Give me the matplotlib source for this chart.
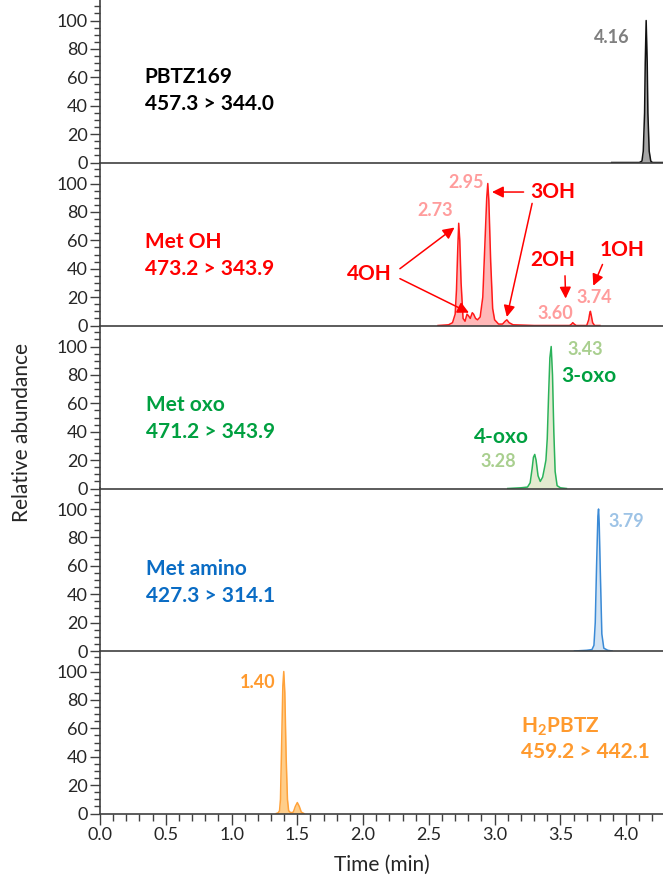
import matplotlib
matplotlib.use('Agg')
import matplotlib.pyplot as plt
from matplotlib.ticker import MultipleLocator, FormatStrFormatter

plt.rcParams['font.family'] = ['Lato', 'DejaVu Sans']
plt.rcParams['mathtext.fontset'] = 'custom'
plt.rcParams['mathtext.rm'] = 'Lato'
plt.rcParams['mathtext.bf'] = 'Lato:bold'

# --- traces (time in min, relative abundance %) ---
pbtz_t = [3.89, 4.10, 4.12, 4.13, 4.14, 4.145, 4.152, 4.16, 4.165, 4.175, 4.187, 4.20, 4.30]
pbtz_y = [0, 0, 1, 8, 35, 70, 100, 70, 35, 8, 1, 0, 0]

met_oh_t = [2.57, 2.65, 2.68, 2.70, 2.71, 2.72, 2.727, 2.735, 2.745, 2.76, 2.775, 2.79,
            2.80, 2.815, 2.83, 2.84, 2.855, 2.87, 2.89, 2.91, 2.925, 2.94, 2.948, 2.956,
            2.97, 2.985, 3.00, 3.03, 3.06, 3.08, 3.093, 3.11, 3.14, 3.30, 3.57, 3.585,
            3.594, 3.605, 3.62, 3.70, 3.715, 3.722, 3.728, 3.735, 3.745, 3.76, 3.80]
met_oh_y = [0, 0.5, 2, 8, 25, 55, 72, 60, 30, 5, 3, 8,
            7, 5, 9, 8, 5, 4, 6, 20, 55, 90, 100, 88,
            45, 12, 4, 1, 1, 3, 4, 2, 0.5, 0, 0, 1,
            2, 1, 0, 0, 4, 8, 10, 7, 2, 0, 0]

met_oxo_t = [3.10, 3.20, 3.25, 3.27, 3.285, 3.295, 3.305, 3.315, 3.33, 3.347, 3.365, 3.38,
             3.39, 3.40, 3.41, 3.42, 3.43, 3.44, 3.45, 3.46, 3.475, 3.50, 3.546]
met_oxo_y = [0, 0.5, 1, 4, 14, 22, 24, 20, 9, 5, 8, 15,
             20, 35, 65, 92, 100, 80, 40, 12, 2, 0.5, 0]

met_amino_t = [3.607, 3.70, 3.74, 3.755, 3.765, 3.775, 3.785, 3.79, 3.795, 3.805, 3.815, 3.83, 3.86, 3.893]
met_amino_y = [0, 0.5, 1, 4, 20, 60, 95, 100, 90, 50, 12, 2, 0.5, 0]

h2pbtz_t = [1.34, 1.355, 1.365, 1.372, 1.38, 1.39, 1.397, 1.405, 1.415, 1.425, 1.434,
            1.45, 1.47, 1.485, 1.50, 1.515, 1.53, 1.55]
h2pbtz_y = [0, 0.5, 2, 10, 45, 90, 100, 85, 40, 10, 2, 0.5, 1, 5, 7.7, 5, 1, 0]

compounds = ['PBTZ169', 'Met OH', 'Met oxo', 'Met amino', r'H$_\mathbf{2}$PBTZ']
transitions = ['457.3 > 344.0', '473.2 > 343.9', '471.2 > 343.9', '427.3 > 314.1', '459.2 > 442.1']
x_ticks = [0.0, 0.5, 1.0, 1.5, 2.0, 2.5, 3.0, 3.5, 4.0]
y_ticks = [0, 20, 40, 60, 80, 100]

traces = [(pbtz_t, pbtz_y), (met_oh_t, met_oh_y), (met_oxo_t, met_oxo_y),
          (met_amino_t, met_amino_y), (h2pbtz_t, h2pbtz_y)]

line_colors = ['#111111', '#ff1a1a', '#2bb25a', '#3a8ad6', '#ffa23a']
fill_colors = ['#a6a6a6', '#ffb8b8', '#e3ebd0', '#d3e4f4', '#ffce8a']
label_colors = ['#000000', '#ff0000', '#00a040', '#0a6cc4', '#ff9a2e']
rt_colors = ['#7f7f7f', '#ff9c9c', '#a9cf8f', '#9dc3e6', '#ff9a2e']

fig = plt.figure(figsize=(6.63, 8.75), dpi=100)

W, H = 663, 875
ax_left = 100 / W
ax_w = 1 - ax_left
panel_h = 163 / H
zero_px = [162.5, 325.5, 488.5, 651, 813.5]
ymax = 114.8

axes = []
for i in range(5):
    bottom = 1 - zero_px[i] / H
    ax = fig.add_axes([ax_left, bottom, ax_w, panel_h])
    ax.patch.set_alpha(0)
    t, y = traces[i]
    ax.fill_between(t, y, 0, color=fill_colors[i], lw=0, zorder=1)
    ax.plot(t, y, color=line_colors[i], lw=1.1, zorder=2)
    ax.set_xlim(0, 4.28)
    ax.set_ylim(0, ymax)
    for s in ['top', 'right']:
        ax.spines[s].set_visible(False)
    for s in ['left', 'bottom']:
        ax.spines[s].set_color('#404040')
        ax.spines[s].set_linewidth(1.2)
    ax.set_yticks(y_ticks)
    ax.yaxis.set_minor_locator(MultipleLocator(5))
    ax.tick_params(axis='y', which='major', length=7, width=1, color='#404040',
                   labelsize=13, labelcolor='#262626', pad=2)
    ax.tick_params(axis='y', which='minor', length=4, width=1, color='#404040')
    if i < 4:
        ax.set_xticks([])
        ax.tick_params(axis='x', which='both', bottom=False, labelbottom=False)
    else:
        ax.set_xticks(x_ticks)
        ax.xaxis.set_major_formatter(FormatStrFormatter('%.1f'))
        ax.xaxis.set_minor_locator(MultipleLocator(0.1))
        ax.tick_params(axis='x', which='major', length=8, width=1, color='#404040',
                       labelsize=13, labelcolor='#262626', pad=2)
        ax.tick_params(axis='x', which='minor', length=5, width=1, color='#404040')
        ax.set_xlabel('Time (min)', fontsize=15, color='#262626', labelpad=8)
    axes.append(ax)

# compound names and transitions
name_pos = [(0.34, 60, 41), (0.34, 59, 40), (0.35, 59, 40), (0.35, 58, 39), (3.20, 61, 43)]
for i, ax in enumerate(axes):
    x0, y_name, y_tr = name_pos[i]
    ax.text(x0, y_name, compounds[i], color=label_colors[i], fontsize=15,
            fontweight='bold', va='center', ha='left')
    ax.text(x0, y_tr, transitions[i], color=label_colors[i], fontsize=15,
            fontweight='bold', va='center', ha='left')

# retention-time labels
rt_kw = dict(fontsize=13, fontweight='bold', ha='center', va='center')
axes[0].text(3.89, 88, '4.16', color=rt_colors[0], **rt_kw)
axes[1].text(2.55, 81, '2.73', color=rt_colors[1], **rt_kw)
axes[1].text(2.78, 101, '2.95', color=rt_colors[1], **rt_kw)
axes[1].text(3.46, 8.5, '3.60', color=rt_colors[1], **rt_kw)
axes[1].text(3.755, 20, '3.74', color=rt_colors[1], **rt_kw)
axes[2].text(3.69, 98, '3.43', color=rt_colors[2], **rt_kw)
axes[2].text(3.03, 19, '3.28', color=rt_colors[2], **rt_kw)
axes[3].text(4.00, 91, '3.79', color=rt_colors[3], **rt_kw)
axes[4].text(1.20, 92, '1.40', color=rt_colors[4], **rt_kw)

# metabolite isomer labels
iso_kw = dict(fontsize=15, fontweight='bold', ha='center', va='center')
axes[2].text(3.72, 79, '3-oxo', color=label_colors[2], **iso_kw)
axes[2].text(3.05, 36.5, '4-oxo', color=label_colors[2], **iso_kw)

red = '#ff0000'
ax = axes[1]
ax.text(2.05, 36, '4OH', color=red, **iso_kw)
ax.text(3.44, 94, '3OH', color=red, **iso_kw)
ax.text(3.44, 46, '2OH', color=red, **iso_kw)
ax.text(3.97, 53, '1OH', color=red, **iso_kw)
arrows = [((2.28, 40), (2.695, 69)), ((2.28, 33), (2.805, 9)),
          ((3.22, 94), (2.98, 94)), ((3.285, 86), (3.093, 6)),
          ((3.535, 35), (3.54, 19)), ((3.82, 43), (3.75, 28))]
for tail, head in arrows:
    ax.annotate('', xy=head, xytext=tail,
                arrowprops=dict(arrowstyle='-|>', color=red, lw=1.1,
                                mutation_scale=17, shrinkA=0, shrinkB=0))

fig.text(22 / W, 1 - 432 / H, 'Relative abundance', rotation=90, fontsize=15,
         color='#262626', ha='center', va='center')

fig.savefig('out.png', dpi=100)
